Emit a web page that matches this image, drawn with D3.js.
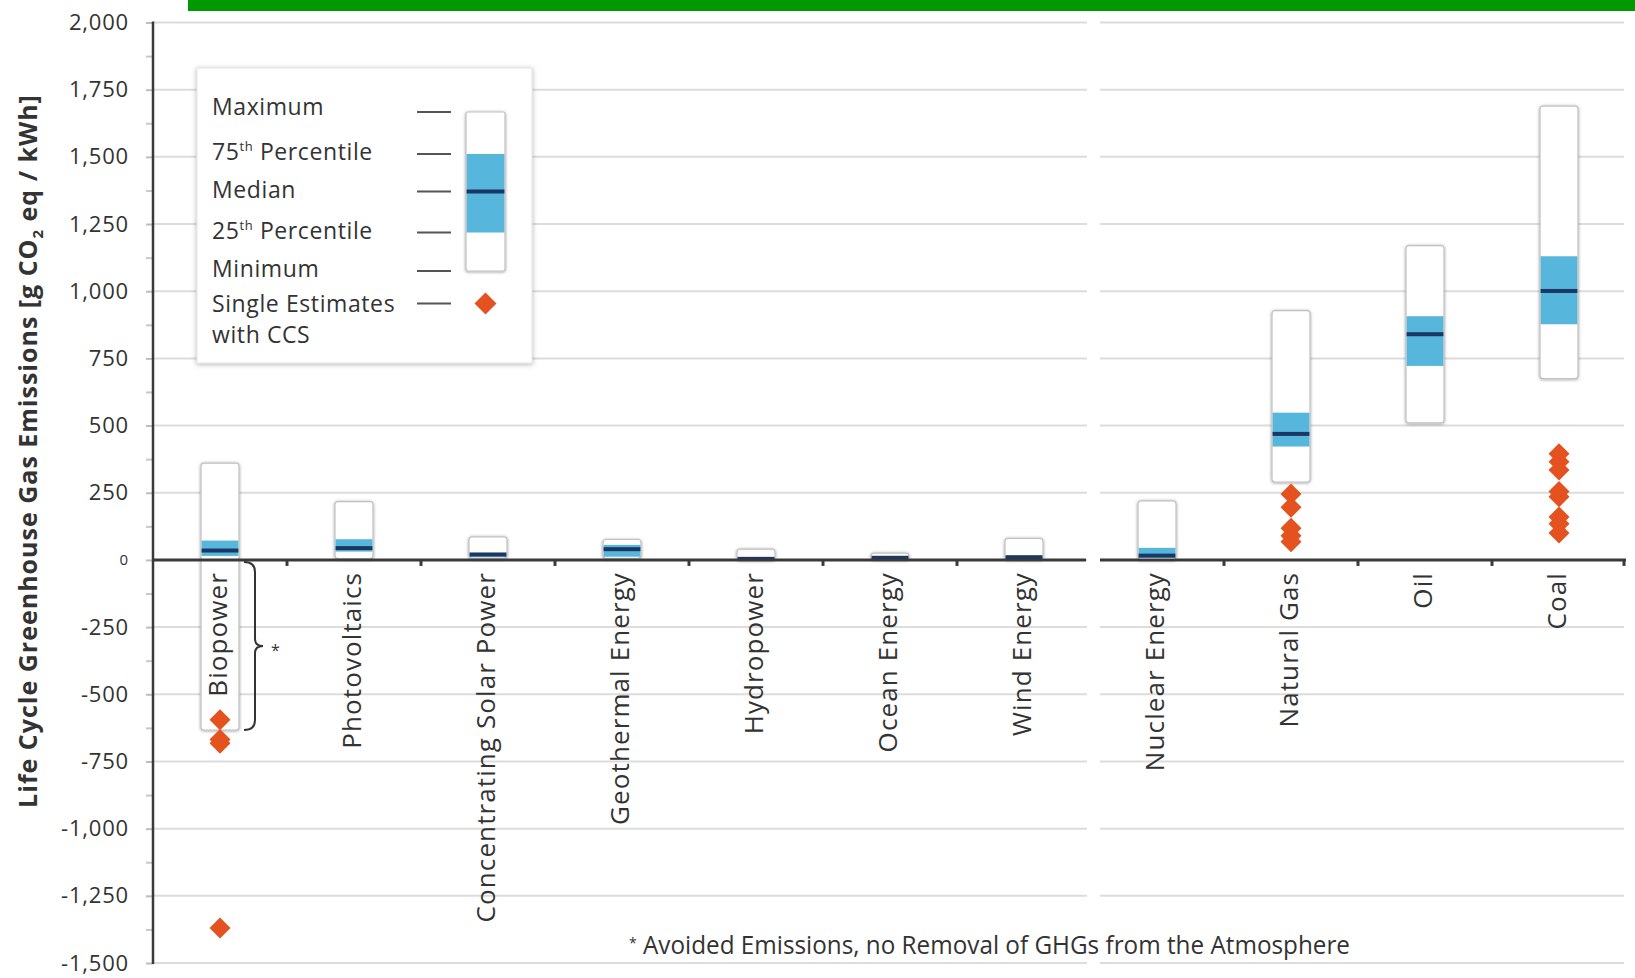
<!DOCTYPE html>
<html>
<head>
<meta charset="utf-8">
<script src="https://cdn.jsdelivr.net/npm/d3@7"></script>
<style>
  html, body { margin: 0; padding: 0; background: #fff; }
  svg { display: block; font-family: "Open Sans", "Noto Sans", sans-serif; }
</style>
</head>
<body>
<svg id="chart" width="1635" height="978"></svg>
<script>
// Technologies, split into renewable and conventional groups
const renewables = ["Biopower", "Photovoltaics", "Concentrating Solar Power", "Geothermal Energy",
                    "Hydropower", "Ocean Energy", "Wind Energy"];
const conventional = ["Nuclear Energy", "Natural Gas", "Oil", "Coal"];
const technologies = renewables.concat(conventional);

// Life-cycle emission statistics per technology [g CO2eq / kWh]
const minimum      = [-633,   5,  7,  6,  0,  2,  2,   1, 290,  510,  675];
const percentile25 = [  15,  31, 12, 12,  2,  5,  6,   8, 422,  722,  877];
const median       = [  35,  44, 20, 40,  4,  8, 10,  16, 469,  840, 1001];
const percentile75 = [  72,  77, 27, 56,  8, 12, 16,  45, 548,  907, 1130];
const maximum      = [ 360, 217, 86, 76, 40, 25, 80, 220, 928, 1170, 1689];

// Single estimates with carbon capture and storage
const ccsBiopower   = [-595, -668, -682, -1370];
const ccsNaturalGas = [245, 196, 118, 90, 68];
const ccsCoal       = [395, 365, 335, 255, 235, 160, 135, 100];

// Value axis
const yTickValues = [-1500, -1250, -1000, -750, -500, -250, 0, 250, 500, 750, 1000, 1250, 1500, 1750, 2000];

// Legend rows
const legendLabels = ["Maximum", "75th Percentile", "Median", "25th Percentile", "Minimum", "Single Estimates"];

const svg = d3.select("#chart");
const W = 1635, H = 978;

const axisX = 153;
const y = d3.scaleLinear().domain([-1500, 2000]).range([963, 22.5]);
const xLeft = d3.scaleBand().domain(renewables).range([axisX, 1091]);
const xRight = d3.scaleBand().domain(conventional).range([1090, 1626]);
const xCenter = name => renewables.includes(name)
  ? xLeft(name) + xLeft.bandwidth() / 2
  : xRight(name) + xRight.bandwidth() / 2;
const boxW = 38;

const colors = {
  grid: "#dcdcdc",
  axis: "#3a3a3a",
  text: "#333333",
  iqr: "#57b6dc",
  median: "#1b3764",
  boxStroke: "#c0c0c0",
  ccs: "#e4531f",
  banner: "#009a00"
};

const defs = svg.append("defs");
const shadow = defs.append("filter").attr("id", "boxShadow")
  .attr("filterUnits", "userSpaceOnUse")
  .attr("x", -2 * W).attr("y", -2 * H).attr("width", 4 * W).attr("height", 4 * H);
shadow.append("feDropShadow").attr("dx", 0).attr("dy", 0.6)
  .attr("stdDeviation", 1.7).attr("flood-color", "#000").attr("flood-opacity", 0.4);

const legendShadow = defs.append("filter").attr("id", "legendShadow")
  .attr("filterUnits", "userSpaceOnUse")
  .attr("x", -2 * W).attr("y", -2 * H).attr("width", 4 * W).attr("height", 4 * H);
legendShadow.append("feDropShadow").attr("dx", 0).attr("dy", 1)
  .attr("stdDeviation", 2.5).attr("flood-color", "#000").attr("flood-opacity", 0.3);

// Green banner along the top
svg.append("rect").attr("x", 188).attr("y", 0).attr("width", W - 188).attr("height", 11)
  .attr("fill", colors.banner);

// Horizontal gridlines, broken between the two groups
const grid = svg.append("g");
yTickValues.forEach(v => {
  grid.append("line").attr("x1", axisX).attr("x2", 1087)
    .attr("y1", y(v)).attr("y2", y(v))
    .attr("stroke", colors.grid).attr("stroke-width", 2);
  grid.append("line").attr("x1", 1100).attr("x2", 1624)
    .attr("y1", y(v)).attr("y2", y(v))
    .attr("stroke", colors.grid).attr("stroke-width", 2);
});

// Y axis: labelled major ticks and unlabelled minor ticks
const fmt = d3.formatLocale({ decimal: ".", thousands: ",", grouping: [3], currency: ["", ""], minus: "-" }).format(",");
const yAxis = svg.append("g").attr("transform", `translate(${axisX},0)`)
  .call(d3.axisLeft(y).tickValues(yTickValues).tickFormat(fmt).tickSize(7).tickPadding(17));
yAxis.select(".domain").remove();
yAxis.selectAll(".tick line").attr("stroke", "#bdbdbd").attr("stroke-width", 2);
yAxis.selectAll(".tick text")
  .attr("font-family", "'Open Sans', sans-serif")
  .attr("font-size", d => d === 0 ? 15 : 22)
  .attr("letter-spacing", 0.8).attr("fill", colors.text);

const minorTicks = d3.pairs(yTickValues).map(([a, b]) => (a + b) / 2);
const yMinor = svg.append("g").attr("transform", `translate(${axisX},0)`)
  .call(d3.axisLeft(y).tickValues(minorTicks).tickFormat("").tickSize(7));
yMinor.select(".domain").remove();
yMinor.selectAll(".tick line").attr("stroke", "#c8c8c8").attr("stroke-width", 2);

// Box plots
const stats = technologies.map((t, i) => ({
  tech: t, min: minimum[i], q1: percentile25[i], med: median[i], q3: percentile75[i], max: maximum[i]
}));

const boxes = svg.append("g").selectAll("g").data(stats).join("g")
  .attr("transform", d => `translate(${xCenter(d.tech)},0)`);

boxes.append("rect")
  .attr("x", -boxW / 2).attr("width", boxW)
  .attr("y", d => y(d.max)).attr("height", d => y(d.min) - y(d.max))
  .attr("rx", 3)
  .attr("fill", "#fff").attr("stroke", colors.boxStroke).attr("stroke-width", 1.2)
  .attr("filter", "url(#boxShadow)");

boxes.append("rect")
  .attr("x", -boxW / 2 + 0.6).attr("width", boxW - 1.2)
  .attr("y", d => y(d.q3)).attr("height", d => y(d.q1) - y(d.q3))
  .attr("fill", colors.iqr);

boxes.append("rect")
  .attr("x", -boxW / 2 + 0.6).attr("width", boxW - 1.2)
  .attr("y", d => y(d.med) - 2).attr("height", 4)
  .attr("fill", colors.median);

// Zero line with ticks at the category boundaries
const zero = y(0);
const baseline = svg.append("g");
[[axisX, 1086], [1100, 1626]].forEach(([a, b]) => {
  baseline.append("line").attr("x1", a).attr("x2", b).attr("y1", zero).attr("y2", zero)
    .attr("stroke", colors.axis).attr("stroke-width", 3);
});
const boundaries = renewables.slice(1).map(d => xLeft(d))
  .concat(conventional.slice(1).map(d => xRight(d)))
  .concat([xRight.range()[1] - 2]);
baseline.selectAll("line.tick").data(boundaries).join("line").attr("class", "tick")
  .attr("x1", d => d).attr("x2", d => d)
  .attr("y1", zero).attr("y2", zero + 6)
  .attr("stroke", colors.axis).attr("stroke-width", 3);

// Vertical axis line
svg.append("line").attr("x1", axisX).attr("x2", axisX)
  .attr("y1", y(2000) - 1).attr("y2", y(-1500) + 1)
  .attr("stroke", colors.axis).attr("stroke-width", 2.5);

// Single estimates with CCS
const ccsPoints = []
  .concat(ccsBiopower.map(v => ({ tech: "Biopower", value: v })))
  .concat(ccsNaturalGas.map(v => ({ tech: "Natural Gas", value: v })))
  .concat(ccsCoal.map(v => ({ tech: "Coal", value: v })));
const diamond = r => `M0,${-r}L${r},0L0,${r}L${-r},0Z`;
svg.append("g").selectAll("path").data(ccsPoints).join("path")
  .attr("transform", d => `translate(${xCenter(d.tech)},${y(d.value)})`)
  .attr("d", diamond(10.5))
  .attr("fill", colors.ccs);

// Category labels, rotated
svg.append("g").selectAll("text").data(technologies).join("text")
  .attr("transform", d => `translate(${xCenter(d) - 2},572) rotate(-90)`)
  .attr("text-anchor", "end")
  .attr("dy", "0.36em")
  .attr("font-size", 26)
  .attr("letter-spacing", 1.1)
  .attr("fill", colors.text)
  .text(d => d);

// Brace marking the negative part of the biopower range
const bx = xCenter("Biopower") + 24;
const yTop = y(0) + 2, yBot = y(minimum[0]), yMid = (yTop + yBot) / 2;
svg.append("path")
  .attr("d", `M${bx},${yTop} Q${bx + 11},${yTop} ${bx + 11},${yTop + 10}
              L${bx + 11},${yMid - 7} Q${bx + 11},${yMid} ${bx + 19},${yMid}
              Q${bx + 11},${yMid} ${bx + 11},${yMid + 7}
              L${bx + 11},${yBot - 10} Q${bx + 11},${yBot} ${bx},${yBot}`)
  .attr("fill", "none").attr("stroke", "#333").attr("stroke-width", 2);
svg.append("text").attr("x", bx + 27).attr("y", yMid + 10)
  .attr("font-size", 16).attr("fill", colors.text).text("*");

// Legend
const legend = svg.append("g");
legend.append("rect").attr("x", 197).attr("y", 68).attr("width", 335).attr("height", 295)
  .attr("fill", "#fff").attr("stroke", "#e2e2e2").attr("filter", "url(#legendShadow)");
const rowY = [112, 154, 191.5, 232.5, 271, 303.5];
const textBase = [115, 160, 198, 238.5, 276.5, 311.5];
legendLabels.forEach((label, i) => {
  const t = legend.append("text").attr("x", 212).attr("y", textBase[i])
    .attr("font-size", 23).attr("letter-spacing", 0.6).attr("fill", colors.text);
  const m = label.match(/^(\d+)th (.*)$/);
  if (m) {
    t.append("tspan").text(m[1]);
    t.append("tspan").attr("font-size", 13).attr("dy", -9).text("th");
    t.append("tspan").attr("dy", 9).text(" " + m[2]);
  } else {
    t.text(label);
  }
  legend.append("line").attr("x1", 417).attr("x2", 451).attr("y1", rowY[i]).attr("y2", rowY[i])
    .attr("stroke", "#555").attr("stroke-width", 2);
});
legend.append("text").attr("x", 212).attr("y", 343)
  .attr("font-size", 23).attr("letter-spacing", 0.6).attr("fill", colors.text).text("with CCS");
// Sample box in the legend
const lx = 466, lw = 39;
legend.append("rect").attr("x", lx).attr("y", rowY[0]).attr("width", lw).attr("height", rowY[4] - rowY[0])
  .attr("rx", 2).attr("fill", "#fff").attr("stroke", colors.boxStroke).attr("stroke-width", 1.2)
  .attr("filter", "url(#boxShadow)");
legend.append("rect").attr("x", lx + 0.6).attr("y", rowY[1]).attr("width", lw - 1.2)
  .attr("height", rowY[3] - rowY[1]).attr("fill", colors.iqr);
legend.append("rect").attr("x", lx + 0.6).attr("y", rowY[2] - 2).attr("width", lw - 1.2)
  .attr("height", 4).attr("fill", colors.median);
legend.append("path").attr("transform", `translate(${lx + lw / 2},${rowY[5]})`)
  .attr("d", diamond(11)).attr("fill", colors.ccs);

// Y axis title
const title = svg.append("text")
  .attr("transform", "translate(37,451) rotate(-90)")
  .attr("text-anchor", "middle")
  .attr("font-size", 25).attr("font-weight", 700).attr("letter-spacing", 1)
  .attr("fill", colors.text);
title.append("tspan").text("Life Cycle Greenhouse Gas Emissions [g CO");
title.append("tspan").attr("font-size", 15).attr("dy", 6).text("2");
title.append("tspan").attr("dy", -6).text(" eq / kWh]");

// Footnote
svg.append("text").attr("x", 629).attr("y", 948).attr("font-size", 14).attr("fill", colors.text).text("*");
svg.append("text").attr("x", 643).attr("y", 954)
  .attr("font-size", 25).attr("fill", colors.text)
  .attr("textLength", 707).attr("lengthAdjust", "spacingAndGlyphs")
  .text("Avoided Emissions, no Removal of GHGs from the Atmosphere");
</script>
</body>
</html>
